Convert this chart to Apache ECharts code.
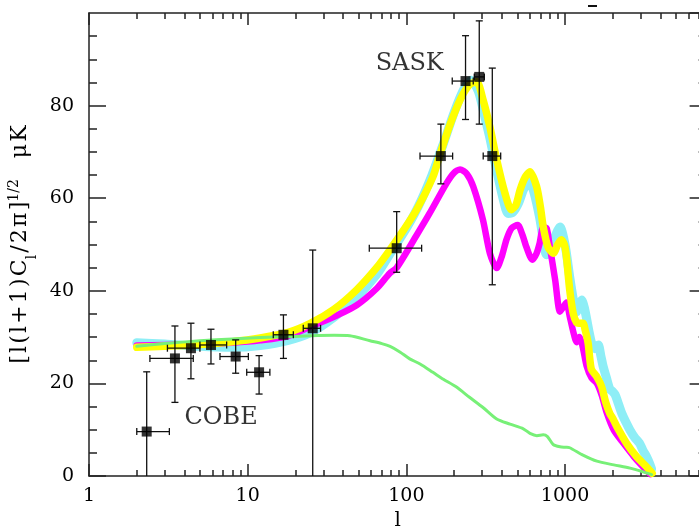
<!DOCTYPE html>
<html>
<head>
<meta charset="utf-8">
<script src="https://cdn.jsdelivr.net/npm/echarts@6/dist/echarts.min.js"></script>
<style>html,body{margin:0;padding:0;background:#fff}#c{width:699px;height:528px}</style>
</head>
<body>
<div id="c"></div>
<script>
// ---------- data ----------
const xTickLabels = [1, 10, 100, 1000];
const yTickLabels = [0, 20, 40, 60, 80];

const cyanL = [2, 3, 5, 8, 12, 18, 25, 35, 48, 65, 80, 100, 120, 145, 170, 200, 230, 257, 285, 310, 336, 371, 409, 438, 470, 510, 550, 601, 640, 690, 730, 763, 800, 860, 929, 1000, 1070, 1130, 1183, 1230, 1273, 1320, 1367, 1420, 1468, 1540, 1621, 1680, 1740, 1830, 1915, 2000, 2066, 2150, 2280, 2420, 2568, 2750, 2945, 3100, 3260, 3400, 3510];
const cyanV = [28.8, 28.5, 28.0, 27.8, 28.2, 29.3, 31.0, 34.3, 38.4, 43.5, 48.3, 53.5, 58.5, 65.0, 71.5, 78.5, 83.5, 85.5, 83.0, 78.0, 73.0, 66.0, 59.6, 56.7, 57.0, 59.0, 62.0, 63.6, 61.0, 56.0, 51.0, 47.8, 48.5, 51.5, 53.8, 50.0, 43.0, 38.0, 35.5, 37.0, 38.0, 36.5, 34.0, 31.0, 28.8, 27.5, 28.3, 26.0, 23.6, 21.0, 18.8, 18.2, 17.6, 16.0, 13.5, 11.6, 9.9, 8.3, 7.1, 5.5, 4.2, 2.8, 1.5];

const yellowL = [2, 3, 5, 8, 12, 18, 25, 35, 48.6, 65, 78.6, 96, 116, 147, 163, 189, 220, 250, 277, 304, 336, 371, 418, 459, 490, 521, 560, 601, 662, 700, 729, 780, 843, 900, 947, 990, 1020, 1070, 1126, 1180, 1222, 1297, 1340, 1398, 1430, 1468, 1587, 1700, 1800, 1915, 2008, 2125, 2436, 2820, 3260, 3540];
const yellowV = [27.8, 28.0, 28.4, 29.0, 29.8, 31.0, 33.0, 36.0, 40.2, 45.0, 48.8, 53.1, 57.5, 64.6, 69.5, 76.0, 81.5, 84.5, 85.2, 81.3, 75.4, 68.3, 61.1, 57.5, 58.5, 61.8, 64.5, 65.7, 62.5, 58.0, 53.8, 49.5, 48.1, 50.0, 51.0, 50.0, 47.4, 40.2, 35.1, 33.2, 33.0, 33.0, 31.5, 28.7, 25.5, 23.0, 21.4, 19.3, 16.0, 13.5, 12.3, 10.6, 7.1, 4.2, 2.0, 0.6];

const magentaL = [2, 3, 5, 8, 12, 18, 25.7, 33, 48.6, 65, 78.6, 87, 116, 140, 179, 200, 218, 240, 264, 304, 336, 371, 400, 427, 460, 503, 540, 570, 622, 660, 692, 729, 766, 802, 867, 929, 975, 1020, 1070, 1130, 1183, 1230, 1290, 1367, 1468, 1587, 1700, 1838, 2030, 2330, 2714, 3100, 3450];
const magentaV = [28.2, 28.3, 28.5, 28.8, 29.3, 30.2, 32.5, 34.0, 36.9, 40.5, 43.8, 45.0, 52.0, 56.7, 63.2, 65.5, 66.2, 65.3, 62.5, 55.3, 48.1, 44.9, 47.5, 51.0, 53.5, 54.2, 52.0, 49.5, 46.7, 48.0, 50.3, 53.8, 53.5, 49.5, 42.3, 35.5, 36.5, 37.5, 34.5, 31.0, 28.9, 30.0, 28.0, 23.8, 21.2, 20.0, 17.5, 13.5, 9.9, 7.1, 4.2, 2.0, 0.4];

const greenL = [2, 3, 5, 8, 12, 18, 25, 35, 44, 59, 70, 79, 91, 105, 122, 147, 171, 207, 250, 304, 371, 450, 546, 601, 665, 729, 775, 842, 929, 1010, 1070, 1297, 1587, 2030, 2568, 3100, 3510];
const greenV = [28.0, 28.6, 29.2, 29.6, 29.9, 30.1, 30.3, 30.4, 30.3, 29.2, 28.6, 28.0, 26.8, 25.3, 24.2, 22.4, 20.9, 19.2, 17.0, 14.8, 12.3, 11.2, 10.2, 9.2, 8.7, 8.9, 8.5, 6.8, 6.3, 6.2, 6.1, 4.5, 3.2, 2.4, 1.7, 0.9, 0.3];

// measured points with error bars
const ptL    = [2.31, 3.48, 4.39, 5.87, 8.40, 11.8, 16.8, 25.7, 86.9, 165, 236, 288, 348];
const ptV    = [9.6, 25.4, 27.6, 28.3, 25.8, 22.4, 30.5, 31.9, 49.2, 69.1, 85.3, 86.2, 69.1];
const ptLo   = [0, 15.9, 21.0, 24.2, 22.2, 17.7, 25.4, 0, 44.0, 63.1, 77.0, 76.0, 41.3];
const ptHi   = [22.5, 32.4, 33.0, 31.7, 29.4, 26.0, 34.8, 48.8, 57.1, 76.0, 95.1, 98.3, 88.1];
const ptLmin = [2.0, 2.42, 3.12, 5.0, 6.69, 9.86, 14.5, 22.4, 58.4, 121.9, 194.6, 268, 305];
const ptLmax = [3.21, 4.54, 5.0, 7.37, 10.1, 13.8, 19.4, 28.8, 124.8, 195.7, 264, 310, 393];

const annoText = ['SASK', 'COBE'];
const annoL = [105, 6.8];
const annoV = [89, 12.5];

// ---------- chart ----------
const X_MIN = 1, X_MAX = 7800, Y_MIN = 0, Y_MAX = 100;
const FONT = 'DejaVu Serif';
const AX = '#222';
const HS = '\u200A';

const minorLog = [];
for (let d = 0; d <= 3; d++) for (let k = 2; k <= 9; k++) {
  const v = k * Math.pow(10, d);
  if (v < X_MAX) minorLog.push(Math.log10(v));
}
const minorY = [];
for (let v = 5; v < Y_MAX; v += 5) if (v % 20 !== 0) minorY.push(v);

const zip = (a, b) => a.map((x, i) => [x, b[i]]);

const chart = echarts.init(document.getElementById('c'), null, {renderer: 'canvas'});
const lineAxisStyle = {show: true, onZero: false, lineStyle: {color: AX, width: 1.5}};
const hiddenLine = {show: false, onZero: false};

const xLogAxis = (pos, labels) => ({
  type: 'log', logBase: 10, min: X_MIN, max: X_MAX, position: pos, offset: 0,
  axisLine: lineAxisStyle,
  axisTick: {show: true, inside: true, length: 12, lineStyle: {color: AX, width: 1.5}},
  axisLabel: labels ? {show: true, margin: 11, fontFamily: FONT, fontSize: 19, color: '#000',
    showMaxLabel: false, formatter: v => xTickLabels.includes(v) ? String(v) : ''} : {show: false},
  splitLine: {show: false},
  minorTick: {show: false}
});
const xMinorAxis = (pos) => ({
  type: 'value', min: 0, max: Math.log10(X_MAX), position: pos, offset: 0,
  axisLine: hiddenLine,
  axisTick: {show: true, inside: true, length: 6, customValues: minorLog, lineStyle: {color: AX, width: 1.5}},
  axisLabel: {show: false}, splitLine: {show: false}, minorTick: {show: false}
});
const yAxisDef = (pos, labels) => ({
  type: 'value', min: Y_MIN, max: Y_MAX, interval: 20, position: pos, offset: 0,
  axisLine: lineAxisStyle,
  axisTick: {show: true, inside: true, length: 17, lineStyle: {color: AX, width: 1.5}},
  minorTick: {show: false},
  axisLabel: labels ? {show: true, margin: 15, fontFamily: FONT, fontSize: 19, color: '#000',
    showMaxLabel: false, formatter: v => yTickLabels.includes(v) ? String(v) : ''} : {show: false},
  splitLine: {show: false}
});
const yMinorAxis = (pos) => ({
  type: 'value', min: Y_MIN, max: Y_MAX, position: pos, offset: 0,
  axisLine: hiddenLine,
  axisTick: {show: true, inside: true, length: 8, customValues: minorY, lineStyle: {color: AX, width: 1.5}},
  axisLabel: {show: false}, splitLine: {show: false}, minorTick: {show: false}
});

const xMain = xLogAxis('bottom', true);
xMain.name = 'l';
xMain.nameLocation = 'middle';
xMain.nameGap = 32;
xMain.nameTextStyle = {fontFamily: FONT, fontSize: 20, color: '#000'};

const yMain = yAxisDef('left', true);
const sp = s => s.split('').join(HS);
yMain.name = sp('[l(l+1)C') + '{s|l}' + HS + sp('/2π]') + '{p|1/2}' + '   ' + sp('μK');
yMain.nameLocation = 'middle';
yMain.nameGap = 44;
yMain.nameTextStyle = {fontFamily: FONT, fontSize: 22, color: '#000', lineHeight: 26,
  rich: {
    s: {fontFamily: FONT, fontSize: 14, color: '#000', verticalAlign: 'bottom', lineHeight: 26, padding: [0, 0, -6, 0]},
    p: {fontFamily: FONT, fontSize: 14, color: '#000', verticalAlign: 'top', lineHeight: 26}
  }};

const curve = (name, L, V, color, width, z) => ({
  name, type: 'line', xAxisIndex: 0, yAxisIndex: 0, data: zip(L, V),
  showSymbol: false, symbol: 'none', smooth: 0.25, z,
  lineStyle: {color, width, join: 'round', cap: 'round'}
});

const errData = ptL.map((l, i) => [l, ptV[i], ptLo[i], ptHi[i], ptLmin[i], ptLmax[i]]);

chart.setOption({
  animation: false,
  backgroundColor: '#fff',
  grid: {left: 89, top: 13, width: 617.6, height: 463, containLabel: false, outerBoundsMode: 'none'},
  xAxis: [xMain, xMinorAxis('bottom'), xLogAxis('top', false), xMinorAxis('top')],
  yAxis: [yMain, yAxisDef('right', false), yMinorAxis('left'), yMinorAxis('right')],
  graphic: [{type: 'rect', left: 588, top: 5, shape: {width: 9, height: 2}, style: {fill: '#111'}}],
  series: [
    curve('cyan', cyanL, cyanV, '#8eeef6', 9, 2),
    curve('magenta', magentaL, magentaV, '#ff00ff', 6.5, 3),
    curve('yellow', yellowL, yellowV, '#ffff00', 7.5, 4),
    curve('green', greenL, greenV, '#77f077', 3, 5),
    {
      type: 'custom', xAxisIndex: 0, yAxisIndex: 0, z: 6,
      data: errData,
      encode: {x: 0, y: 1},
      renderItem: function (params, api) {
        const l = api.value(0), v = api.value(1), lo = api.value(2), hi = api.value(3);
        const l0 = api.value(4), l1 = api.value(5);
        const c = api.coord([l, v]);
        const pLo = api.coord([l, lo]), pHi = api.coord([l, hi]);
        const pL = api.coord([l0, v]), pR = api.coord([l1, v]);
        const cap = 3.5;
        const style = {stroke: '#111', lineWidth: 1.3};
        const ch = [
          {type: 'line', shape: {x1: c[0], y1: pLo[1], x2: c[0], y2: pHi[1]}, style},
          {type: 'line', shape: {x1: c[0] - cap, y1: pHi[1], x2: c[0] + cap, y2: pHi[1]}, style},
          {type: 'line', shape: {x1: pL[0], y1: c[1], x2: pR[0], y2: c[1]}, style},
          {type: 'line', shape: {x1: pL[0], y1: c[1] - cap, x2: pL[0], y2: c[1] + cap}, style},
          {type: 'line', shape: {x1: pR[0], y1: c[1] - cap, x2: pR[0], y2: c[1] + cap}, style}
        ];
        if (lo > 0) ch.push({type: 'line', shape: {x1: c[0] - cap, y1: pLo[1], x2: c[0] + cap, y2: pLo[1]}, style});
        return {type: 'group', children: ch};
      }
    },
    {
      type: 'scatter', xAxisIndex: 0, yAxisIndex: 0, z: 7,
      data: zip(ptL, ptV), symbol: 'rect', symbolSize: 10,
      itemStyle: {color: '#000'}
    },
    {
      type: 'scatter', xAxisIndex: 0, yAxisIndex: 0, z: 8,
      data: annoText.map((t, i) => ({name: t, value: [annoL[i], annoV[i]]})),
      symbolSize: 0,
      label: {show: true, position: 'inside', formatter: p => p.name, fontFamily: FONT, fontSize: 24, color: '#000'}
    }
  ]
});
</script>
</body>
</html>
